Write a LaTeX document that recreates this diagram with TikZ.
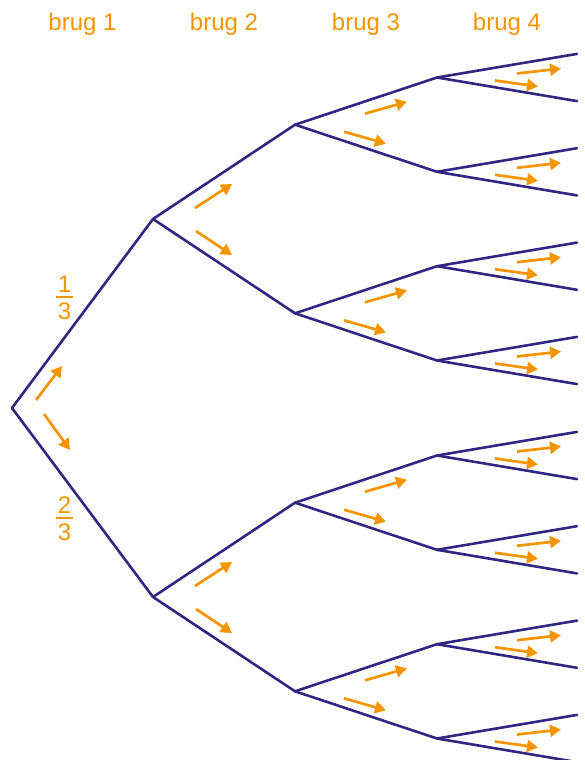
\documentclass[tikz,border=0pt]{standalone}
\usepackage{fontspec}
\setmainfont{Liberation Sans}
\usetikzlibrary{arrows.meta}
\definecolor{treeblue}{HTML}{312783}
\definecolor{treeorange}{HTML}{F49500}
\tikzset{
  branch/.style={draw=treeblue, line width=2.6pt, line cap=round, line join=round},
  probarrow/.style={draw=treeorange, line width=2.7pt, -{Triangle[length=11pt,width=12pt]}},
  head/.style={text=treeorange, font=\fontsize{24}{27}\selectfont, anchor=base, inner sep=0pt},
  fracdigit/.style={text=treeorange, font=\fontsize{24}{26}\selectfont, inner sep=0pt},
  fracbar/.style={draw=treeorange, line width=1.8pt}
}
\begin{document}
\begin{tikzpicture}[x=1pt,y=-1pt]
\useasboundingbox (0,0) rectangle (584,760);
% headings
\node[head] (h1) at (82.5,31) {brug 1};
\node[head] (h2) at (224,31) {brug 2};
\node[head] (h3) at (366,31) {brug 3};
\node[head] (h4) at (507,31) {brug 4};
% tree nodes
\coordinate (r) at (12,408);
\coordinate (a1) at (153,219);
\coordinate (a2) at (153,597);
\foreach \i/\y in {1/124.7,2/313.3,3/502.7,4/691.3}
  \coordinate (b\i) at (295,\y);
\foreach \i/\y in {1/77.5,2/171.8,3/266.2,4/360.5,5/455.5,6/549.8,7/644.2,8/738.5}
  \coordinate (c\i) at (437,\y);
\foreach \i/\y in {1/77.5,2/171.8,3/266.2,4/360.5,5/455.5,6/549.8,7/644.2,8/738.5}{
  \coordinate (u\i) at (577,\y-23.6);
  \coordinate (d\i) at (577,\y+23.6);
}
% branches
\foreach \p/\c in {r/a1,r/a2,a1/b1,a1/b2,a2/b3,a2/b4,
  b1/c1,b1/c2,b2/c3,b2/c4,b3/c5,b3/c6,b4/c7,b4/c8}
  \draw[branch] (\p) -- (\c);
\foreach \i in {1,...,8}{
  \draw[branch] (c\i) -- (u\i);
  \draw[branch] (c\i) -- (d\i);
}
% arrows
\draw[probarrow] ([shift={(24,-8)}]r) -- ([shift={(50,-42)}]r);
\draw[probarrow] ([shift={(32,6)}]r) -- ([shift={(58,42)}]r);
\foreach \n in {a1,a2}{
  \draw[probarrow] ([shift={(42,-11)}]\n) -- ([shift={(79,-35)}]\n);
  \draw[probarrow] ([shift={(43,12)}]\n) -- ([shift={(79,36)}]\n);
}
\foreach \n in {b1,b2,b3,b4}{
  \draw[probarrow] ([shift={(70,-11)}]\n) -- ([shift={(112,-23)}]\n);
  \draw[probarrow] ([shift={(49,7)}]\n) -- ([shift={(91,19)}]\n);
}
\foreach \n in {c1,c2,c3,c4,c5,c6,c7,c8}{
  \draw[probarrow] ([shift={(80,-4)}]\n) -- ([shift={(124,-9)}]\n);
  \draw[probarrow] ([shift={(58,3)}]\n) -- ([shift={(101,9)}]\n);
}
% fractions
\node[fracdigit] (f1n) at (64.5,284) {1};
\node[fracdigit] (f1d) at (64.5,311.5) {3};
\coordinate (f1l) at (56,297);
\coordinate (f1r) at (73,297);
\draw[fracbar] (f1l) -- (f1r);
\node[fracdigit] (f2n) at (64.5,504.7) {2};
\node[fracdigit] (f2d) at (64.5,532) {3};
\coordinate (f2l) at (56,518.3);
\coordinate (f2r) at (73,518.3);
\draw[fracbar] (f2l) -- (f2r);
\end{tikzpicture}
\end{document}
